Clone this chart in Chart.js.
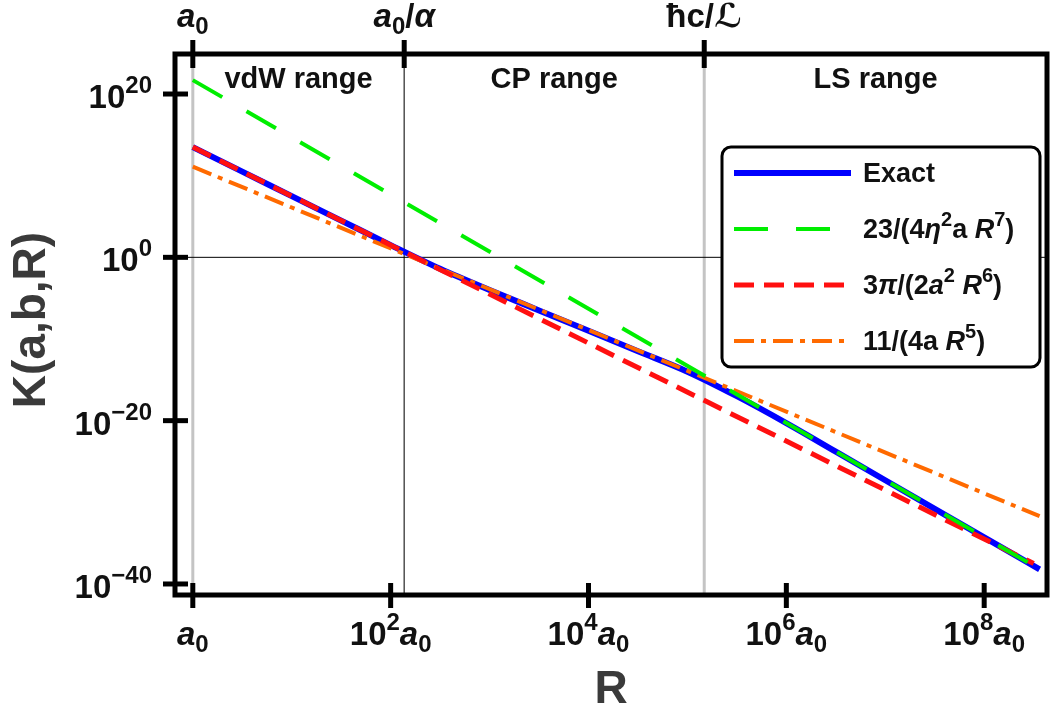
<!DOCTYPE html>
<html>
<head>
<meta charset="utf-8">
<script src="https://cdn.jsdelivr.net/npm/chart.js@4/dist/chart.umd.min.js"></script>
<style>
  html, body { margin: 0; padding: 0; background: #fff; }
  #wrap { width: 1057px; height: 719px; }
</style>
</head>
<body>
<div id="wrap"><canvas id="myChart" width="1057" height="719"></canvas></div>
<script>
// valeurs en log10 : x = log10(R/a0), y = log10(K)
const xExact = [0, 0.5, 1, 1.5, 2, 2.5, 3, 3.5, 4, 4.5, 5, 5.5, 6, 6.5, 7, 7.5, 8, 8.56];
const yExact = [13.5, 10.5, 7.5, 4.5, 1.5, -1.4, -4.0, -6.5, -9.0, -11.5, -14.0, -17.0, -20.3, -23.8, -27.3, -30.8, -34.3, -38.2];
const xLS = [0, 8.56];      // 23/(4 eta^2 a R^7)
const yLS = [21.7, -38.2];
const xVdW = [0, 8.5];     // 3pi/(2 a^2 R^6)
const yVdW = [13.5, -37.5];
const xCP = [0, 8.56];     // 11/(4a R^5)
const yCP = [11.1, -31.7];

const yTickVals = [20, 0, -20, -40];
const yTickExp = ['20', '0', '\u221220', '\u221240'];
const xTickVals = [0, 2, 4, 6, 8];
const xTickExp = ['', '2', '4', '6', '8'];
const topTickVals = [0, 2.137, 5.17]; // a0, a0/alpha, hbar c / L
const rangeNames = ['vdW range', 'CP range', 'LS range'];

const FONT = '"Liberation Sans", Arial, "DejaVu Sans", sans-serif';

function pts(xs, ys) {
    return xs.map((x, i) => ({x: x, y: ys[i]}));
}

// texte riche : [texte, 'n' | 'i' | 'sup' | 'sub']
function segFont(kind, size) {
    const small = Math.round(size * 0.74);
    if (kind === 'i') return 'italic bold ' + size + 'px ' + FONT;
    if (kind === 'sup' || kind === 'sub') return 'bold ' + small + 'px ' + FONT;
    return 'bold ' + size + 'px ' + FONT;
}
function segShift(kind, size) {
    if (kind === 'sup') return -size * 0.45;
    if (kind === 'sub') return size * 0.2;
    return 0;
}
function drawRich(ctx, segs, x, y, align, size, color) {
    ctx.save();
    ctx.textBaseline = 'alphabetic';
    ctx.textAlign = 'left';
    let w = 0;
    segs.forEach(s => { ctx.font = segFont(s[1], size); w += ctx.measureText(s[0]).width; });
    let cx = x;
    if (align === 'center') cx = x - w / 2;
    if (align === 'right') cx = x - w;
    ctx.fillStyle = color || '#111';
    segs.forEach(s => {
        ctx.font = segFont(s[1], size);
        ctx.fillText(s[0], cx, y + segShift(s[1], size));
        cx += ctx.measureText(s[0]).width;
    });
    ctx.restore();
}

const topLabels = [
    [['a', 'i'], ['0', 'sub']],
    [['a', 'i'], ['0', 'sub'], ['/', 'n'], ['\u03B1', 'i']],
    [['\u0127c/', 'n'], ['\u2112', 'i']]
];
const legendTexts = [
    [['Exact', 'n']],
    [['23/(4', 'n'], ['\u03B7', 'i'], ['2', 'sup'], ['a ', 'n'], ['R', 'i'], ['7', 'sup'], [')', 'n']],
    [['3', 'n'], ['\u03C0', 'i'], ['/(2', 'n'], ['a', 'i'], ['2', 'sup'], [' ', 'n'], ['R', 'i'], ['6', 'sup'], [')', 'n']],
    [['11/(4a ', 'n'], ['R', 'i'], ['5', 'sup'], [')', 'n']]
];

const backPlugin = {
    id: 'back',
    beforeDatasetsDraw(chart) {
        const ctx = chart.ctx, a = chart.chartArea;
        const xs = chart.scales.x, ys = chart.scales.y;
        ctx.save();
        // lignes de repere verticales
        const refStyle = [['#c4c4c4', 3], ['#505050', 1.5], ['#c4c4c4', 3]];
        topTickVals.forEach((v, i) => {
            const px = xs.getPixelForValue(v);
            ctx.strokeStyle = refStyle[i][0];
            ctx.lineWidth = refStyle[i][1];
            ctx.beginPath(); ctx.moveTo(px, a.top); ctx.lineTo(px, a.bottom); ctx.stroke();
        });
        // ligne horizontale 10^0
        const py0 = ys.getPixelForValue(0);
        ctx.strokeStyle = '#000'; ctx.lineWidth = 1;
        ctx.beginPath(); ctx.moveTo(a.left, py0); ctx.lineTo(a.right, py0); ctx.stroke();
        // noms des zones
        const bounds = topTickVals.concat([xs.max]);
        rangeNames.forEach((n, i) => {
            const mid = (xs.getPixelForValue(bounds[i]) + xs.getPixelForValue(bounds[i + 1])) / 2;
            drawRich(ctx, [[n, 'n']], mid, 88, 'center', 29, '#111');
        });
        ctx.restore();
    }
};

const frontPlugin = {
    id: 'front',
    afterDraw(chart) {
        const ctx = chart.ctx, a = chart.chartArea;
        const xs = chart.scales.x, ys = chart.scales.y;
        ctx.save();
        // cadre
        ctx.strokeStyle = '#000'; ctx.lineWidth = 5;
        ctx.strokeRect(a.left, a.top, a.right - a.left, a.bottom - a.top);
        // graduations
        ctx.lineWidth = 5;
        xTickVals.forEach((v, i) => {
            const px = xs.getPixelForValue(v);
            ctx.beginPath(); ctx.moveTo(px, a.bottom - 12); ctx.lineTo(px, a.bottom + 13); ctx.stroke();
            const segs = i === 0 ? [['a', 'i'], ['0', 'sub']]
                : [['10', 'n'], [xTickExp[i], 'sup'], ['a', 'i'], ['0', 'sub']];
            drawRich(ctx, segs, px, 645, 'center', 33, '#111');
        });
        topTickVals.forEach((v, i) => {
            const px = xs.getPixelForValue(v);
            ctx.beginPath(); ctx.moveTo(px, 40); ctx.lineTo(px, 68); ctx.stroke();
            drawRich(ctx, topLabels[i], px, 27, 'center', 33, '#111');
        });
        yTickVals.forEach((v, i) => {
            const py = ys.getPixelForValue(v);
            ctx.beginPath(); ctx.moveTo(a.left - 12, py); ctx.lineTo(a.left + 13, py); ctx.stroke();
            drawRich(ctx, [['10', 'n'], [yTickExp[i], 'sup']], 152, py + 14, 'right', 33, '#111');
        });
        // titres des axes
        ctx.fillStyle = '#3a3a3a';
        ctx.font = 'bold 46px ' + FONT;
        ctx.textAlign = 'center';
        ctx.textBaseline = 'middle';
        ctx.fillText('R', (a.left + a.right) / 2, 690);
        ctx.translate(32, 320);
        ctx.rotate(-Math.PI / 2);
        ctx.fillText('K(a,b,R)', 0, 0);
        ctx.restore();

        // legende
        ctx.save();
        const lx = 722, ly = 147, lw = 318, lh = 220;
        ctx.fillStyle = '#fff';
        ctx.strokeStyle = '#000';
        ctx.lineWidth = 3;
        ctx.beginPath();
        ctx.roundRect(lx, ly, lw, lh, 9);
        ctx.fill(); ctx.stroke();
        const rows = [173, 229, 285, 341];
        chart.data.datasets.forEach((ds, i) => {
            ctx.strokeStyle = ds.borderColor;
            ctx.lineWidth = ds.borderWidth;
            ctx.setLineDash(ds.borderDash || []);
            ctx.lineCap = 'butt';
            ctx.beginPath(); ctx.moveTo(734, rows[i]); ctx.lineTo(851, rows[i]); ctx.stroke();
            ctx.setLineDash([]);
            drawRich(ctx, legendTexts[i], 863, rows[i] + 9, 'left', 27, '#111');
        });
        ctx.restore();
    }
};

const chart = new Chart(
    document.getElementById('myChart'),
    {
        type: 'line',
        data: {
            datasets: [
                {
                    label: 'Exact',
                    data: pts(xExact, yExact),
                    borderColor: '#0000ff',
                    borderWidth: 6,
                    cubicInterpolationMode: 'monotone',
                    order: 5
                },
                {
                    label: '23/(4eta^2 a R^7)',
                    data: pts(xLS, yLS),
                    borderColor: '#00ee00',
                    borderWidth: 4,
                    borderDash: [34, 28],
                    order: 1
                },
                {
                    label: '3pi/(2a^2 R^6)',
                    data: pts(xVdW, yVdW),
                    borderColor: '#ff1010',
                    borderWidth: 5,
                    borderDash: [20, 10],
                    order: 2
                },
                {
                    label: '11/(4a R^5)',
                    data: pts(xCP, yCP),
                    borderColor: '#ff6a00',
                    borderWidth: 4,
                    borderDash: [20, 7, 5, 7],
                    order: 3
                }
            ]
        },
        options: {
            responsive: false,
            animation: false,
            devicePixelRatio: 1,
            layout: {
                padding: { left: 175, right: 10, top: 54, bottom: 124 }
            },
            plugins: {
                legend: { display: false },
                tooltip: { enabled: false }
            },
            elements: {
                point: { radius: 0 },
                line: { tension: 0 }
            },
            scales: {
                x: { type: 'linear', min: -0.18, max: 8.635, display: false },
                y: { type: 'linear', min: -41.35, max: 24.9, display: false }
            }
        },
        plugins: [backPlugin, frontPlugin]
    }
);
</script>
</body>
</html>
